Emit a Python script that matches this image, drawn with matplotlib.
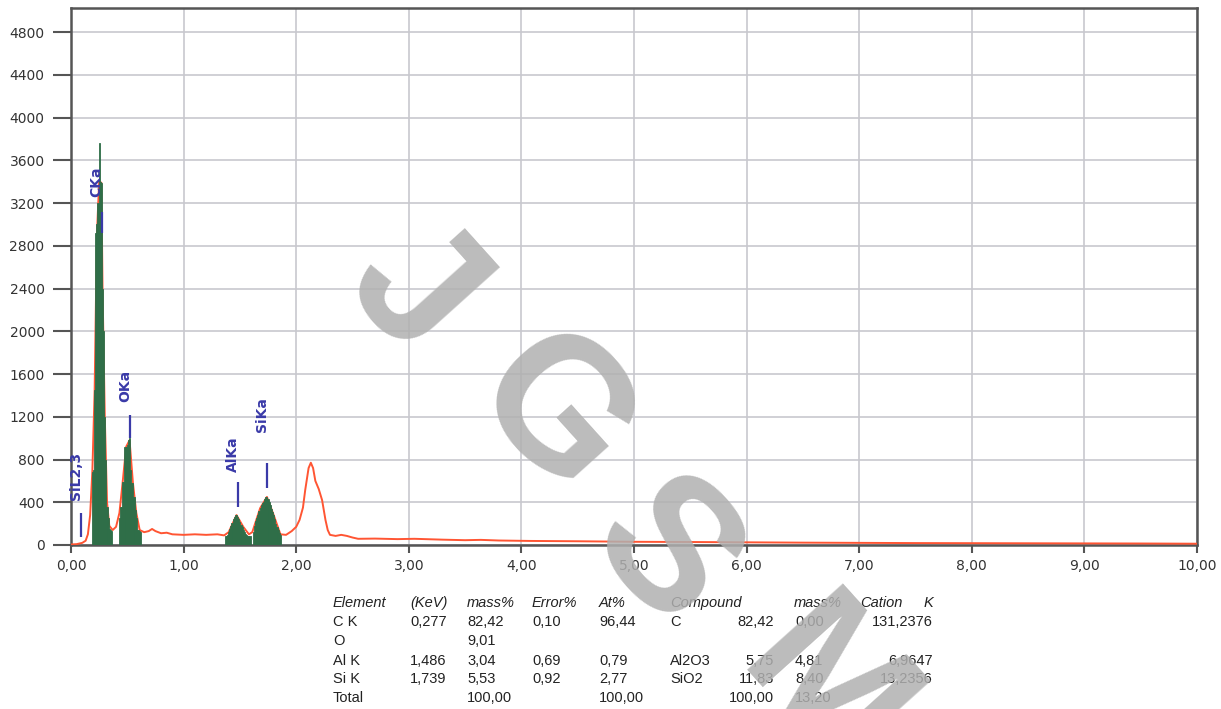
import matplotlib.pyplot as plt
from matplotlib.ticker import MultipleLocator, FuncFormatter

# spectrum trace (keV, counts)
spec_kev = [0.00, 0.05, 0.10, 0.13, 0.15, 0.17, 0.19, 0.21, 0.23, 0.25, 0.27, 0.28, 0.30,
            0.32, 0.34, 0.37, 0.40, 0.43, 0.46, 0.49, 0.52, 0.55, 0.58, 0.61, 0.65, 0.69,
            0.72, 0.75, 0.80, 0.85, 0.90, 1.00, 1.10, 1.20, 1.30, 1.36, 1.40, 1.47, 1.53,
            1.58, 1.61, 1.68, 1.74, 1.80, 1.86, 1.91, 1.96, 2.00, 2.03, 2.06, 2.08, 2.11,
            2.13, 2.15, 2.17, 2.20, 2.23, 2.26, 2.28, 2.30, 2.35, 2.40, 2.45, 2.50, 2.55,
            2.70, 2.90, 3.05, 3.30, 3.50, 3.64, 3.80, 4.08, 4.50, 5.00, 5.50, 6.00, 6.50,
            7.00, 7.50, 8.00, 8.50, 9.00, 9.50, 10.00]
spec_cnt = [5, 8, 20, 40, 100, 280, 700, 1450, 2900, 3400, 3390, 2400, 1200,
            400, 180, 140, 170, 300, 600, 920, 980, 580, 300, 140, 120, 130,
            150, 130, 110, 115, 100, 95, 100, 95, 100, 90, 120, 280, 170,
            100, 120, 345, 450, 280, 100, 95, 130, 170, 235, 350, 514, 720,
            770, 720, 600, 524, 420, 234, 140, 95, 85, 95, 85, 70, 58,
            60, 55, 58, 50, 45, 48, 42, 38, 35, 30, 28, 25, 22,
            20, 18, 17, 16, 15, 14, 12]

# integrated peak channels (green)
c_kev = [0.19, 0.20, 0.21, 0.22, 0.23, 0.24, 0.25, 0.26, 0.27, 0.28, 0.29, 0.30, 0.31,
         0.32, 0.33, 0.34, 0.35, 0.36]
c_cnt = [680, 700, 1450, 2920, 3000, 3200, 3760, 3400, 3390, 2400, 2000, 1200, 800,
         360, 250, 150, 140, 130]
o_kev = [0.43, 0.44, 0.45, 0.46, 0.47, 0.48, 0.49, 0.50, 0.51, 0.52, 0.53, 0.54, 0.55,
         0.56, 0.57, 0.58, 0.59, 0.60, 0.61, 0.62]
o_cnt = [250, 358, 358, 590, 590, 920, 920, 940, 985, 1000, 700, 580, 580,
         450, 330, 250, 140, 140, 130, 120]
al_kev = [1.37, 1.38, 1.39, 1.40, 1.41, 1.42, 1.43, 1.44, 1.45, 1.46, 1.47, 1.48, 1.49,
          1.50, 1.51, 1.52, 1.53, 1.54, 1.55, 1.56, 1.57, 1.58, 1.59]
al_cnt = [80, 80, 95, 120, 150, 180, 210, 245, 265, 280, 280, 265, 240,
          215, 190, 165, 140, 120, 100, 90, 85, 80, 80]
si_kev = [1.62, 1.63, 1.64, 1.65, 1.66, 1.67, 1.68, 1.69, 1.70, 1.71, 1.72, 1.73, 1.74,
          1.75, 1.76, 1.77, 1.78, 1.79, 1.80, 1.81, 1.82, 1.83, 1.84, 1.85, 1.86]
si_cnt = [120, 180, 220, 250, 280, 320, 345, 370, 390, 405, 430, 450, 452,
          430, 400, 375, 340, 310, 280, 240, 200, 170, 140, 115, 90]

# line markers
line_names = ["SiL2,3", "CKa", "OKa", "AlKa", "SiKa"]
line_kev = [0.092, 0.272, 0.525, 1.486, 1.739]
line_lo = [75, 2918, 1000, 360, 533]
line_hi = [300, 3115, 1216, 590, 766]
label_y = [421, 3255, 1340, 686, 1057]

# quantification table
tbl_header = ["Element", "(KeV)", "mass%", "Error%", "At%", "Compound", "mass%", "Cation", "K"]
tbl_element = ["C K", "O", "Al K", "Si K", "Total"]
tbl_kev = ["0,277", "", "1,486", "1,739", ""]
tbl_mass = ["82,42", "9,01", "3,04", "5,53", "100,00"]
tbl_error = ["0,10", "", "0,69", "0,92", ""]
tbl_at = ["96,44", "", "0,79", "2,77", "100,00"]
tbl_compound = ["C", "", "Al2O3", "SiO2", ""]
tbl_cmass = ["82,42", "", "5,75", "11,83", "100,00"]
tbl_cation = ["0,00", "", "4,81", "8,40", "13,20"]
tbl_k = ["131,2376", "", "6,9647", "13,2356", ""]

W, H = 1221, 709
fig = plt.figure(figsize=(W / 100, H / 100), dpi=100)
ax = fig.add_axes([71 / W, 164 / H, 1126 / W, 537 / H])

green = "#2e6e48"
red = "#ff5533"
blue = "#3a3aa8"

ax.plot(spec_kev, spec_cnt, color=red, lw=1.4, zorder=3)
for xs, ys in [(c_kev, c_cnt), (o_kev, o_cnt), (al_kev, al_cnt), (si_kev, si_cnt)]:
    ax.bar(xs, ys, width=0.01, color=green, edgecolor=green, linewidth=0.6, zorder=4)

ax.vlines(line_kev, line_lo, line_hi, color=blue, lw=1.6, zorder=5)
for name, x, y in zip(line_names, line_kev, label_y):
    ax.text(x - 0.045, y, name, rotation=90, ha="center", va="bottom",
            color=blue, fontsize=10, fontweight="bold", zorder=5)

ax.set_xlim(0, 10)
ax.set_ylim(0, 5025)
ax.xaxis.set_major_locator(MultipleLocator(1))
ax.yaxis.set_major_locator(MultipleLocator(400))
ax.xaxis.set_major_formatter(FuncFormatter(lambda v, p: f"{v:.2f}".replace(".", ",")))
ax.yaxis.set_major_formatter(FuncFormatter(lambda v, p: f"{v:.0f}" if v <= 4800 else ""))
ax.grid(True, color="#c8c8ce", lw=1.2)
ax.set_axisbelow(True)
for s in ax.spines.values():
    s.set_color("#555555")
    s.set_linewidth(1.8)
ax.tick_params(axis="y", length=13, width=1.5, color="#555555", pad=6,
               labelsize=10, labelcolor="#333333")
ax.tick_params(axis="x", length=6, width=1.5, color="#555555", pad=4,
               labelsize=10, labelcolor="#333333")

# table below the plot
def put(px, py, s, ha="left", style="normal"):
    fig.text(px / W, 1 - py / H, s, ha=ha, va="center", fontsize=10.5,
             family=["Liberation Sans", "DejaVu Sans"], style=style, color="#222222")

col_x = [333, 410, 467, 532, 599, 670, 794, 860, 933]
for i, h in enumerate(tbl_header):
    put(col_x[i], 603, h, ha="right" if h == "K" else "left", style="italic")
row_y = [622, 641, 661, 679, 698]
for r, y in enumerate(row_y):
    put(333, y, tbl_element[r])
    put(410, y, tbl_kev[r])
    put(467, y, tbl_mass[r])
    put(532, y, tbl_error[r])
    put(599, y, tbl_at[r])
    put(670, y, tbl_compound[r])
    put(774, y, tbl_cmass[r], ha="right")
    put(795, y, tbl_cation[r])
    put(933, y, tbl_k[r], ha="right")

# watermark
for ch, (cx, cy) in zip("JGSM", [(412, 293), (550, 418), (662, 557), (822, 695)]):
    fig.text(cx / W, 1 - cy / H, ch, rotation=-48, ha="center", va="center",
             fontsize=135, fontweight="bold", family="Liberation Sans",
             color="#b0b0b0", alpha=0.85, zorder=20)

fig.savefig("out.png", dpi=100)
